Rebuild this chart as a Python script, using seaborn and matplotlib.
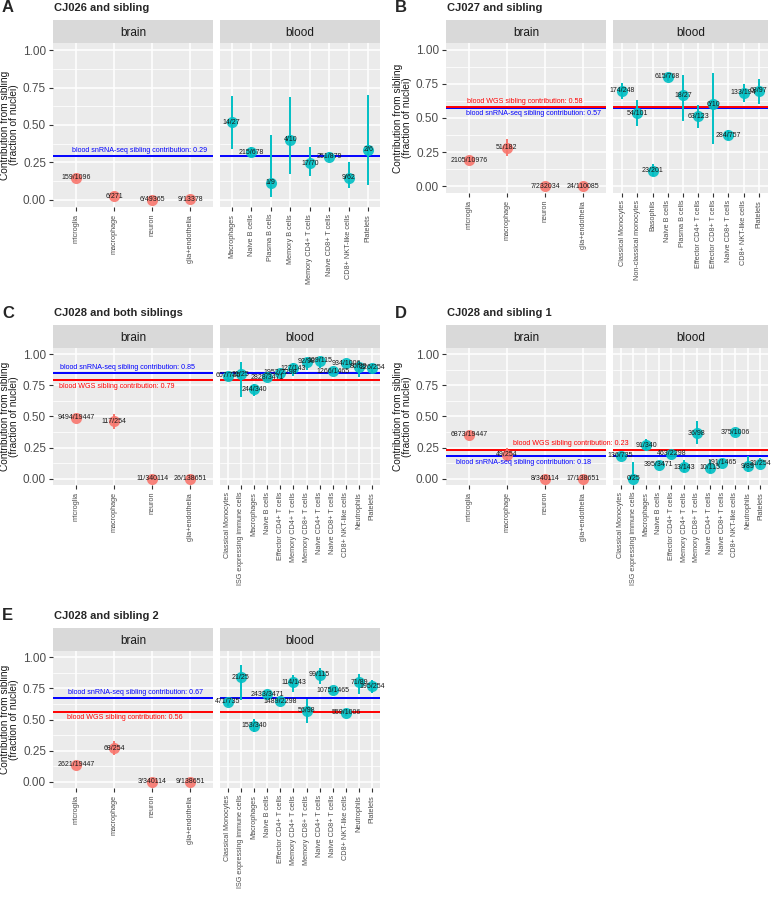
import numpy as np
import pandas as pd
import matplotlib
matplotlib.use("Agg")
import matplotlib.pyplot as plt
import seaborn as sns

sns.set_style("darkgrid")
plt.rcParams['font.family'] = ['Liberation Sans', 'DejaVu Sans']

# ---------------- data ----------------
brain_types = ["microglia", "macrophage", "neuron", "glia+endothelia"]

A_brain_k = [159, 6, 6, 9]
A_brain_n = [1096, 271, 49365, 13378]
A_blood_types = ["Macrophages", "Naive B cells", "Plasma B cells", "Memory B cells",
                 "Memory CD4+ T cells", "Naive CD8+ T cells", "CD8+ NKT-like cells", "Platelets"]
A_blood_k = [14, 215, 1, 4, 17, 251, 9, 2]
A_blood_n = [27, 678, 9, 10, 70, 879, 62, 6]
A_snrna = 0.29

B_brain_k = [2105, 51, 7, 24]
B_brain_n = [10976, 182, 232034, 110085]
B_blood_types = ["Classical Monocytes", "Non-classical monocytes", "Basophils", "Naive B cells",
                 "Plasma B cells", "Effector CD4+ T cells", "Effector CD8+ T cells",
                 "Naive CD8+ T cells", "CD8+ NKT-like cells", "Platelets"]
B_blood_k = [174, 54, 23, 615, 18, 63, 6, 284, 133, 68]
B_blood_n = [248, 101, 201, 768, 27, 123, 10, 757, 194, 97]
B_snrna = 0.57
B_wgs = 0.58

CJ028_brain_n = [19447, 254, 340114, 138651]
CJ028_blood_types = ["Classical Monocytes", "ISG expressing immune cells", "Macrophages",
                     "Naive B cells", "Effector CD4+ T cells", "Memory CD4+ T cells",
                     "Memory CD8+ T cells", "Naive CD4+ T cells", "Naive CD8+ T cells",
                     "CD8+ NKT-like cells", "Neutrophils", "Platelets"]
CJ028_blood_n = [735, 25, 340, 3471, 2298, 143, 98, 115, 1465, 1006, 89, 254]

C_brain_k = [9494, 117, 11, 26]
C_blood_k = [607, 21, 244, 2828, 1952, 127, 92, 109, 1266, 934, 80, 226]
C_snrna = 0.85
C_wgs = 0.79

D_brain_k = [6873, 49, 8, 17]
D_blood_k = [136, 0, 91, 395, 463, 13, 36, 10, 191, 375, 9, 31]
D_wgs = 0.23
D_snrna = 0.18

E_brain_k = [2621, 68, 3, 9]
E_blood_k = [471, 21, 153, 2433, 1489, 114, 56, 99, 1075, 559, 71, 195]
E_snrna = 0.67
E_wgs = 0.56

# ---------------- styling ----------------
BRAIN_COL = "#F8766D"
BLOOD_COL = "#00BFC4"
RED = "#FF0000"
BLUE = "#0000FF"
W, H = 774, 900

fig = plt.figure(figsize=(W / 100, H / 100), dpi=100)


def rect(x0, y0, x1, y1):
    return [x0 / W, 1 - y1 / H, (x1 - x0) / W, (y1 - y0) / H]


def wilson(k, n, z=1.96):
    k = np.asarray(k, float)
    n = np.asarray(n, float)
    p = k / n
    denom = 1 + z ** 2 / n
    center = (p + z ** 2 / (2 * n)) / denom
    half = z * np.sqrt(p * (1 - p) / n + z ** 2 / (4 * n ** 2)) / denom
    return center - half, center + half


def facet(box, strip_top, title, cats, k, n, color, hlines, show_y):
    x0, y0, x1, y1 = box
    # strip
    sax = fig.add_axes(rect(x0, strip_top, x1, y0))
    sax.set_facecolor("#D9D9D9")
    sax.grid(False)
    sax.set_xticks([]); sax.set_yticks([])
    for s in sax.spines.values():
        s.set_visible(False)
    sax.text(0.5, 0.45, title, ha="center", va="center", fontsize=8.5,
             color="#1A1A1A", transform=sax.transAxes)

    ax = fig.add_axes(rect(x0, y0, x1, y1))
    df = pd.DataFrame({"cell": cats,
                       "frac": np.asarray(k, float) / np.asarray(n, float),
                       "label": [f"{a}/{b}" for a, b in zip(k, n)]})
    lo, hi = wilson(k, n)
    pos = np.arange(len(cats))
    for val, col, _, _, _ in hlines:
        ax.axhline(val, color=col, lw=1.4, zorder=2.5)
    ax.vlines(pos, lo, hi, color=color, lw=1.4, zorder=3)
    sns.stripplot(data=df, x="cell", y="frac", order=cats, jitter=False,
                  color=color, size=8, ax=ax, zorder=4, linewidth=0, alpha=0.9)
    for xi, yi, lab in zip(pos, df["frac"], df["label"]):
        ax.text(xi, yi, lab, ha="center", va="center", fontsize=5,
                color="#1A1A1A", zorder=5)
    ax.set_facecolor("#EBEBEB")
    ax.set_xlim(-0.6, len(cats) - 0.4)
    ax.set_ylim(-0.05, 1.05)
    ax.set_yticks([0, 0.25, 0.5, 0.75, 1.0])
    ax.set_yticks([0.125, 0.375, 0.625, 0.875], minor=True)
    ax.set_xticks(pos)
    ax.set_xticklabels(cats, rotation=90, fontsize=5.2, color="#4D4D4D")
    ax.grid(True, which="major", color="white", lw=1.1)
    ax.grid(True, which="minor", axis="y", color="white", lw=0.55)
    ax.set_axisbelow(True)
    for s in ax.spines.values():
        s.set_visible(False)
    ax.set_xlabel(""); ax.set_ylabel("")
    ax.tick_params(axis="x", which="major", length=3, width=0.8, color="#333333", pad=2,
                   bottom=True)
    ax.tick_params(which="minor", length=0)
    if show_y:
        ax.set_yticklabels(["0.00", "0.25", "0.50", "0.75", "1.00"], fontsize=8.5, color="#4D4D4D")
        ax.tick_params(axis="y", which="major", length=3, width=0.8, color="#333333", pad=2,
                       left=True)
    else:
        ax.set_yticklabels([])
        ax.tick_params(axis="y", which="major", length=0)
    return ax


def panel(letter, title, ox, oy_title, strip_top, panel_top, panel_bottom, blood_right,
          brain_k, brain_n, blood_types, blood_k, blood_n, hlines):
    bx0 = 53 + ox
    fig.text((2 + ox) / W, 1 - oy_title / H, letter, fontsize=12, fontweight="bold",
             ha="left", va="center")
    fig.text((bx0 + 1) / W, 1 - oy_title / H, title, fontsize=8, fontweight="bold",
             ha="left", va="center")
    axb = facet((bx0, panel_top, bx0 + 160, panel_bottom), strip_top, "brain",
                brain_types, brain_k, brain_n, BRAIN_COL, hlines, True)
    facet((bx0 + 167, panel_top, blood_right, panel_bottom), strip_top, "blood",
          blood_types, blood_k, blood_n, BLOOD_COL, hlines, False)
    axb.set_zorder(5)
    for val, col, txt, xpos, dy in hlines:
        axb.annotate(txt, xy=(xpos, val), xytext=(0, dy), textcoords="offset points",
                     ha="left", va="center", fontsize=5.1, color=col, clip_on=False,
                     annotation_clip=False, zorder=6)
    fig.text((9.5 + ox) / W, 1 - (panel_top + panel_bottom) / 2 / H,
             "Contribution from sibling\n(fraction of nuclei)", rotation=90,
             ha="center", va="center", fontsize=7.3, linespacing=0.95, color="#1A1A1A")


panel("A", "CJ026 and sibling", 0, 8, 20, 43, 207, 380,
      A_brain_k, A_brain_n, A_blood_types, A_blood_k, A_blood_n,
      [(A_snrna, BLUE, f"blood snRNA-seq sibling contribution: {A_snrna:.2f}", -0.10, 4.3)])

panel("B", "CJ027 and sibling", 393, 8, 20, 43, 193, 768,
      B_brain_k, B_brain_n, B_blood_types, B_blood_k, B_blood_n,
      [(B_snrna, BLUE, f"blood snRNA-seq sibling contribution: {B_snrna:.2f}", -0.08, -3.8),
       (B_wgs, RED, f"blood WGS sibling contribution: {B_wgs:.2f}", -0.05, 4.3)])

panel("C", "CJ028 and both siblings", 0, 313, 325, 348, 485, 380,
      C_brain_k, CJ028_brain_n, CJ028_blood_types, C_blood_k, CJ028_blood_n,
      [(C_snrna, BLUE, f"blood snRNA-seq sibling contribution: {C_snrna:.2f}", -0.42, 3.8),
       (C_wgs, RED, f"blood WGS sibling contribution: {C_wgs:.2f}", -0.44, -4.3)])

panel("D", "CJ028 and sibling 1", 393, 313, 325, 348, 485, 768,
      D_brain_k, CJ028_brain_n, CJ028_blood_types, D_blood_k, CJ028_blood_n,
      [(D_snrna, BLUE, f"blood snRNA-seq sibling contribution: {D_snrna:.2f}", -0.34, -4.3),
       (D_wgs, RED, f"blood WGS sibling contribution: {D_wgs:.2f}", 1.16, 5.0)])

panel("E", "CJ028 and sibling 2", 0, 616, 628, 651, 788, 380,
      E_brain_k, CJ028_brain_n, CJ028_blood_types, E_blood_k, CJ028_blood_n,
      [(E_snrna, BLUE, f"blood snRNA-seq sibling contribution: {E_snrna:.2f}", -0.21, 4.3),
       (E_wgs, RED, f"blood WGS sibling contribution: {E_wgs:.2f}", -0.23, -4.3)])

fig.savefig("out.png", dpi=100, facecolor="white")
